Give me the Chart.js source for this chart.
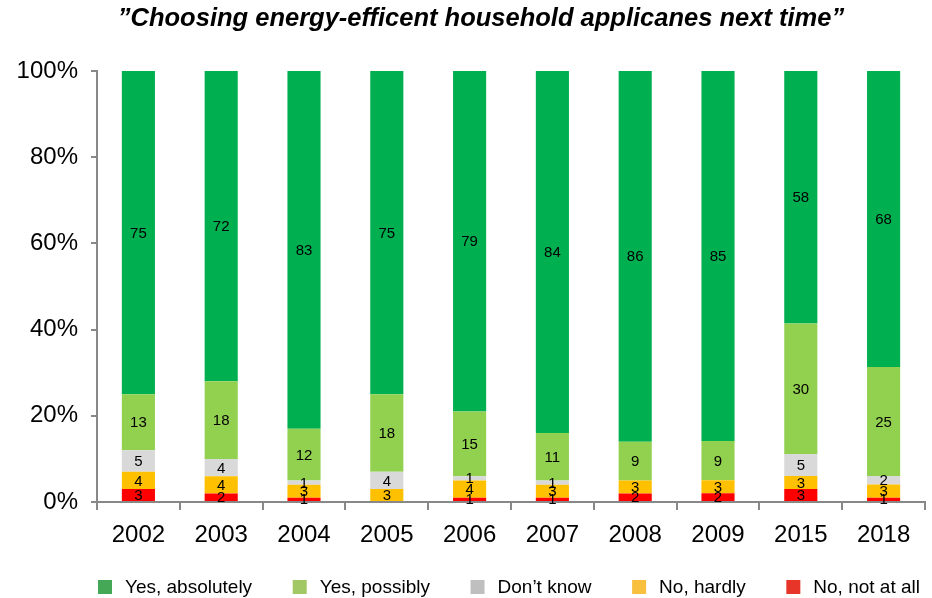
<!DOCTYPE html>
<html>
<head>
<meta charset="utf-8">
<script src="https://cdn.jsdelivr.net/npm/chart.js@4/dist/chart.umd.min.js"></script>
<style>
  html, body { margin: 0; padding: 0; background: #fff; }
  #wrap { width: 932px; height: 598px; }
</style>
</head>
<body>
<div id="wrap"><canvas id="chart"></canvas></div>
<script>
  // Categories and answers (values in % as printed on the bars)
  const years = ["2002", "2003", "2004", "2005", "2006", "2007", "2008", "2009", "2015", "2018"];
  const notAtAll = [3, 2, 1, 0, 1, 1, 2, 2, 3, 1];
  const hardly = [4, 4, 3, 3, 4, 3, 3, 3, 3, 3];
  const dontKnow = [5, 4, 1, 4, 1, 1, 0, 0, 5, 2];
  const possibly = [13, 18, 12, 18, 15, 11, 9, 9, 30, 25];
  const absolutely = [75, 72, 83, 75, 79, 84, 86, 85, 58, 68];
  const yTicks = [0, 20, 40, 60, 80, 100];

  const TITLE = "\u201DChoosing energy-efficent household applicanes next time\u201D";
  const FONT = "Arial, 'Liberation Sans', sans-serif";

  // stacking order: bottom first
  const series = [
    { label: "No, not at all", values: notAtAll, color: "#FF0000", legend: "#E8352A" },
    { label: "No, hardly", values: hardly, color: "#FFC000", legend: "#F9C040" },
    { label: "Don\u2019t know", values: dontKnow, color: "#D9D9D9", legend: "#BFBFBF" },
    { label: "Yes, possibly", values: possibly, color: "#92D050", legend: "#A2C865" },
    { label: "Yes, absolutely", values: absolutely, color: "#00B050", legend: "#45A857" },
  ];

  // 100% stacked: each column scaled to its own total
  const totals = years.map((_, i) => series.reduce((s, d) => s + d.values[i], 0));

  // numbers inside the segments
  const segmentLabels = {
    id: "segmentLabels",
    afterDatasetsDraw(chart) {
      const { ctx } = chart;
      ctx.save();
      ctx.font = "15px " + FONT;
      ctx.fillStyle = "#000";
      ctx.textAlign = "center";
      ctx.textBaseline = "middle";
      chart.data.datasets.forEach((ds, di) => {
        const meta = chart.getDatasetMeta(di);
        meta.data.forEach((bar, i) => {
          const v = ds.raw[i];
          if (!v) return;
          ctx.fillText(String(v), bar.x, (bar.y + bar.base) / 2 + 1);
        });
      });
      ctx.restore();
    },
  };

  // title + legend row drawn by hand (spacing as in the slide)
  const decorations = {
    id: "decorations",
    afterDraw(chart) {
      const { ctx } = chart;
      ctx.save();
      ctx.fillStyle = "#000";
      ctx.textBaseline = "middle";
      ctx.textAlign = "center";
      ctx.font = "italic bold 25.5px " + FONT;
      ctx.fillText(TITLE, 481, 19);

      // legend: top series first
      const items = chart.data.datasets.slice().reverse();
      ctx.font = "19px " + FONT;
      ctx.textAlign = "left";
      const box = 14, gapText = 13, x0 = 98, x1 = 920, y = 587;
      const widths = items.map((d) => box + gapText + ctx.measureText(d.label).width);
      const gap = (x1 - x0 - widths.reduce((a, b) => a + b, 0)) / (items.length - 1);
      let x = x0;
      items.forEach((d, k) => {
        ctx.fillStyle = d.legendColor;
        ctx.fillRect(x, y - box / 2, box, box);
        ctx.fillStyle = "#000";
        ctx.fillText(d.label, x + box + gapText, y + 1);
        x += widths[k] + gap;
      });
      ctx.restore();
    },
  };

  new Chart(document.getElementById("chart"), {
    type: "bar",
    data: {
      labels: years,
      datasets: series.map((s) => ({
        label: s.label,
        raw: s.values,
        data: s.values.map((v, i) => (v / totals[i]) * 100),
        backgroundColor: s.color,
        legendColor: s.legend,
        borderWidth: 0,
        categoryPercentage: 1,
        barPercentage: 0.4,
      })),
    },
    options: {
      responsive: true,
      maintainAspectRatio: false,
      animation: false,
      layout: { padding: { left: 0, right: 7, top: 71, bottom: 51 } },
      plugins: {
        tooltip: { enabled: false },
        title: { display: false },
        legend: { display: false },
      },
      scales: {
        x: {
          stacked: true,
          offset: true,
          border: { color: "#888", width: 2 },
          grid: { display: true, drawOnChartArea: false, offset: true, tickLength: 8, color: "#888", lineWidth: 2 },
          ticks: { color: "#000", font: { family: FONT, size: 24 }, padding: 11 },
          afterFit: (scale) => { scale.height = 45; },
        },
        y: {
          stacked: true,
          min: 0,
          max: 100,
          border: { color: "#888", width: 2 },
          grid: { display: true, drawOnChartArea: false, tickLength: 6, color: "#888", lineWidth: 2 },
          afterBuildTicks: (scale) => { scale.ticks = yTicks.map((v) => ({ value: v })); },
          ticks: {
            color: "#000",
            font: { family: FONT, size: 24 },
            padding: 13,
            callback: (v) => v + "%",
          },
          afterFit: (scale) => { scale.width = 97; },
        },
      },
    },
    plugins: [segmentLabels, decorations],
  });
</script>
</body>
</html>
